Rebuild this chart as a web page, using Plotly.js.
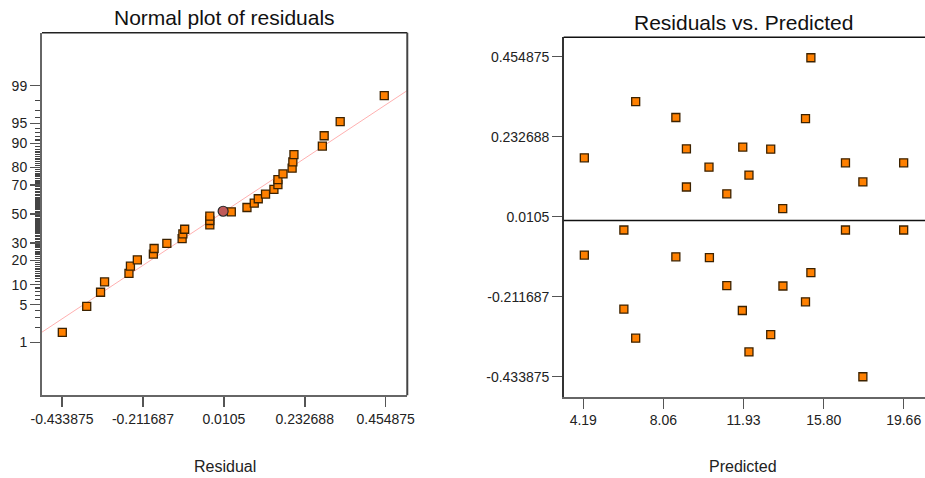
<!DOCTYPE html>
<html>
<head>
<meta charset="utf-8">
<script src="https://cdn.plot.ly/plotly-3.0.1.min.js"></script>
<style>html,body{margin:0;padding:0;background:#fff;}#chart{width:925px;height:478px;}</style>
</head>
<body>
<div id="chart"></div>
<script>
// ---- Data ----
// Residuals vs. Predicted
const predicted = [4.24, 4.24, 6.15, 6.15, 6.72, 6.72, 8.66, 8.66, 9.17, 9.17, 10.26, 10.28, 11.12, 11.12, 11.89, 11.87,
                   12.19, 12.19, 13.24, 13.24, 13.82, 13.83, 14.92, 14.92, 15.18, 15.18, 16.85, 16.85, 17.69, 17.69, 19.66, 19.66];
const residuals = [0.174, -0.096, -0.0265, -0.246, 0.330, -0.327, 0.286, -0.101, 0.199, 0.093, 0.148, -0.103, 0.074, -0.181, 0.204, -0.250,
                   0.126, -0.365, 0.198, -0.317, 0.033, -0.182, 0.283, -0.226, 0.452, -0.145, 0.160, -0.0265, 0.107, -0.434, 0.160, -0.0265];

// Normal plot of residuals (residual, normal % probability)
const normalResid = [-0.433, -0.366, -0.328, -0.317, -0.250, -0.246, -0.227, -0.183, -0.181, -0.146, -0.104, -0.102, -0.097, -0.028, -0.028, -0.028,
                     0.031, 0.074, 0.094, 0.105, 0.125, 0.148, 0.159, 0.159, 0.173, 0.198, 0.200, 0.203, 0.281, 0.286, 0.330, 0.451];
const normalProb = [1.6, 4.7, 7.8, 10.9, 14.1, 17.2, 20.3, 23.4, 26.6, 29.7, 32.8, 35.9, 39.1, 42.2, 45.3, 48.4,
                    51.6, 54.7, 57.8, 60.9, 64.1, 67.2, 70.3, 73.4, 76.6, 79.7, 82.8, 85.9, 89.1, 92.2, 95.3, 98.4];
const centerResid = [0.0086];
const centerProb = [52.0];
const refLineResid = [-0.4888, 0.5142];
const refLineProb = [1.61, 98.74];

// Tick labels
const residTicks = [-0.433875, -0.211687, 0.0105, 0.232688, 0.454875];
const residTickText = ['-0.433875', '-0.211687', '0.0105', '0.232688', '0.454875'];
const predTicks = [4.19, 8.06, 11.93, 15.80, 19.66];
const predTickText = ['4.19', '8.06', '11.93', '15.80', '19.66'];
const probTicks = [1, 5, 10, 20, 30, 50, 70, 80, 90, 95, 99];
const probTickText = ['1', '5', '10', '20', '30', '50', '70', '80', '90', '95', '99'];
const probMinor = [];
for (let k = 1; k <= 99; k++) if (probTicks.indexOf(k) < 0) probMinor.push(k);

// ---- normal probability scale (inverse normal CDF) ----
function probit(p) {
  const a=[-3.969683028665376e+01,2.209460984245205e+02,-2.759285104469687e+02,1.383577518672690e+02,-3.066479806614716e+01,2.506628277459239e+00];
  const b=[-5.447609879822406e+01,1.615858368580409e+02,-1.556989798598866e+02,6.680131188771972e+01,-1.328068155288572e+01];
  const c=[-7.784894002430293e-03,-3.223964580411365e-01,-2.400758277161838e+00,-2.549732539343734e+00,4.374664141464968e+00,2.938163982698783e+00];
  const d=[7.784695709041462e-03,3.224671290700398e-01,2.445134137142996e+00,3.754408661907416e+00];
  const pl=0.02425, ph=1-pl;
  if (p < pl) { const q=Math.sqrt(-2*Math.log(p)); return (((((c[0]*q+c[1])*q+c[2])*q+c[3])*q+c[4])*q+c[5])/((((d[0]*q+d[1])*q+d[2])*q+d[3])*q+1); }
  if (p <= ph) { const q=p-0.5, r=q*q; return (((((a[0]*r+a[1])*r+a[2])*r+a[3])*r+a[4])*r+a[5])*q/(((((b[0]*r+b[1])*r+b[2])*r+b[3])*r+b[4])*r+1); }
  const q=Math.sqrt(-2*Math.log(1-p)); return -(((((c[0]*q+c[1])*q+c[2])*q+c[3])*q+c[4])*q+c[5])/((((d[0]*q+d[1])*q+d[2])*q+d[3])*q+1);
}
const z = arr => arr.map(v => probit(v / 100));

const FONT = 'Liberation Sans, Arial, sans-serif';
const squareMarker = {symbol: 'square', size: 8, color: '#FF8000', line: {color: '#3c2200', width: 1.3}};

const traces = [
  {x: refLineResid, y: z(refLineProb), xaxis: 'x', yaxis: 'y', mode: 'lines',
   line: {color: '#FFB0B0', width: 1}, hoverinfo: 'skip', showlegend: false},
  {x: normalResid, y: z(normalProb), xaxis: 'x', yaxis: 'y', mode: 'markers',
   marker: squareMarker, showlegend: false, cliponaxis: false},
  {x: centerResid, y: z(centerProb), xaxis: 'x', yaxis: 'y', mode: 'markers',
   marker: {symbol: 'circle', size: 10, color: '#BF5A5A', line: {color: '#2a2a2a', width: 1.2}}, showlegend: false},
  {x: predicted, y: residuals, xaxis: 'x2', yaxis: 'y2', mode: 'markers',
   marker: squareMarker, showlegend: false}
];

const tickBase = {ticks: 'outside', ticklen: 10, tickwidth: 1.5, tickcolor: '#555',
  showgrid: false, zeroline: false, showline: true, linecolor: '#666', linewidth: 2,
  tickfont: {family: FONT, size: 14, color: '#222'}, fixedrange: true};

const layout = {
  width: 925, height: 478,
  margin: {l: 0, r: 0, t: 0, b: 0},
  paper_bgcolor: '#fff', plot_bgcolor: '#fff',
  font: {family: FONT, color: '#222'},
  showlegend: false,
  xaxis: Object.assign({}, tickBase, {
    domain: [0.0454, 0.4403], range: [-0.4888, 0.5142], anchor: 'y',
    tickmode: 'array', tickvals: residTicks, ticktext: residTickText
  }),
  yaxis: Object.assign({}, tickBase, {
    domain: [0.173, 0.9316], range: [-3.287, 3.287], anchor: 'x',
    tickmode: 'array', tickvals: z(probTicks), ticktext: probTickText,
    minor: {tickmode: 'array', tickvals: z(probMinor), ticks: 'outside', ticklen: 5, tickwidth: 1.3, tickcolor: '#444', showgrid: false}
  }),
  xaxis2: Object.assign({}, tickBase, {
    domain: [0.6094, 1], range: [3.244, 20.69], anchor: 'y2',
    tickmode: 'array', tickvals: predTicks, ticktext: predTickText
  }),
  yaxis2: Object.assign({}, tickBase, {
    domain: [0.1701, 0.922], range: [-0.4894, 0.5088], anchor: 'x2',
    linecolor: '#333', linewidth: 1.6,
    tickmode: 'array', tickvals: residTicks, ticktext: residTickText
  }),
  shapes: [
    {type: 'line', xref: 'x domain', yref: 'y domain', x0: 0, x1: 1, y0: 1, y1: 1, line: {color: '#222', width: 1.5}},
    {type: 'line', xref: 'x domain', yref: 'y domain', x0: 1, x1: 1, y0: 0, y1: 1, line: {color: '#444', width: 2}},
    {type: 'line', xref: 'x2 domain', yref: 'y2 domain', x0: 0, x1: 1, y0: 1, y1: 1, line: {color: '#111', width: 1.5}},
    {type: 'line', xref: 'x2 domain', yref: 'y2', x0: 0, x1: 1, y0: 0, y1: 0, line: {color: '#111', width: 1.5}}
  ],
  annotations: [
    {text: 'Normal plot of residuals', xref: 'paper', yref: 'paper', x: 224.2/925, y: 1 - 17.7/478,
     xanchor: 'center', yanchor: 'middle', showarrow: false, font: {family: FONT, size: 21, color: '#111'}},
    {text: 'Residuals vs. Predicted', xref: 'paper', yref: 'paper', x: 743.3/925, y: 1 - 22.7/478,
     xanchor: 'center', yanchor: 'middle', showarrow: false, font: {family: FONT, size: 21, color: '#111'}},
    {text: 'Residual', xref: 'paper', yref: 'paper', x: 225/925, y: 1 - 466/478,
     xanchor: 'center', yanchor: 'middle', showarrow: false, font: {family: FONT, size: 16, color: '#222'}},
    {text: 'Predicted', xref: 'paper', yref: 'paper', x: 743/925, y: 1 - 466/478,
     xanchor: 'center', yanchor: 'middle', showarrow: false, font: {family: FONT, size: 16, color: '#222'}}
  ]
};

Plotly.newPlot('chart', traces, layout, {displayModeBar: false, staticPlot: true});
</script>
</body>
</html>
